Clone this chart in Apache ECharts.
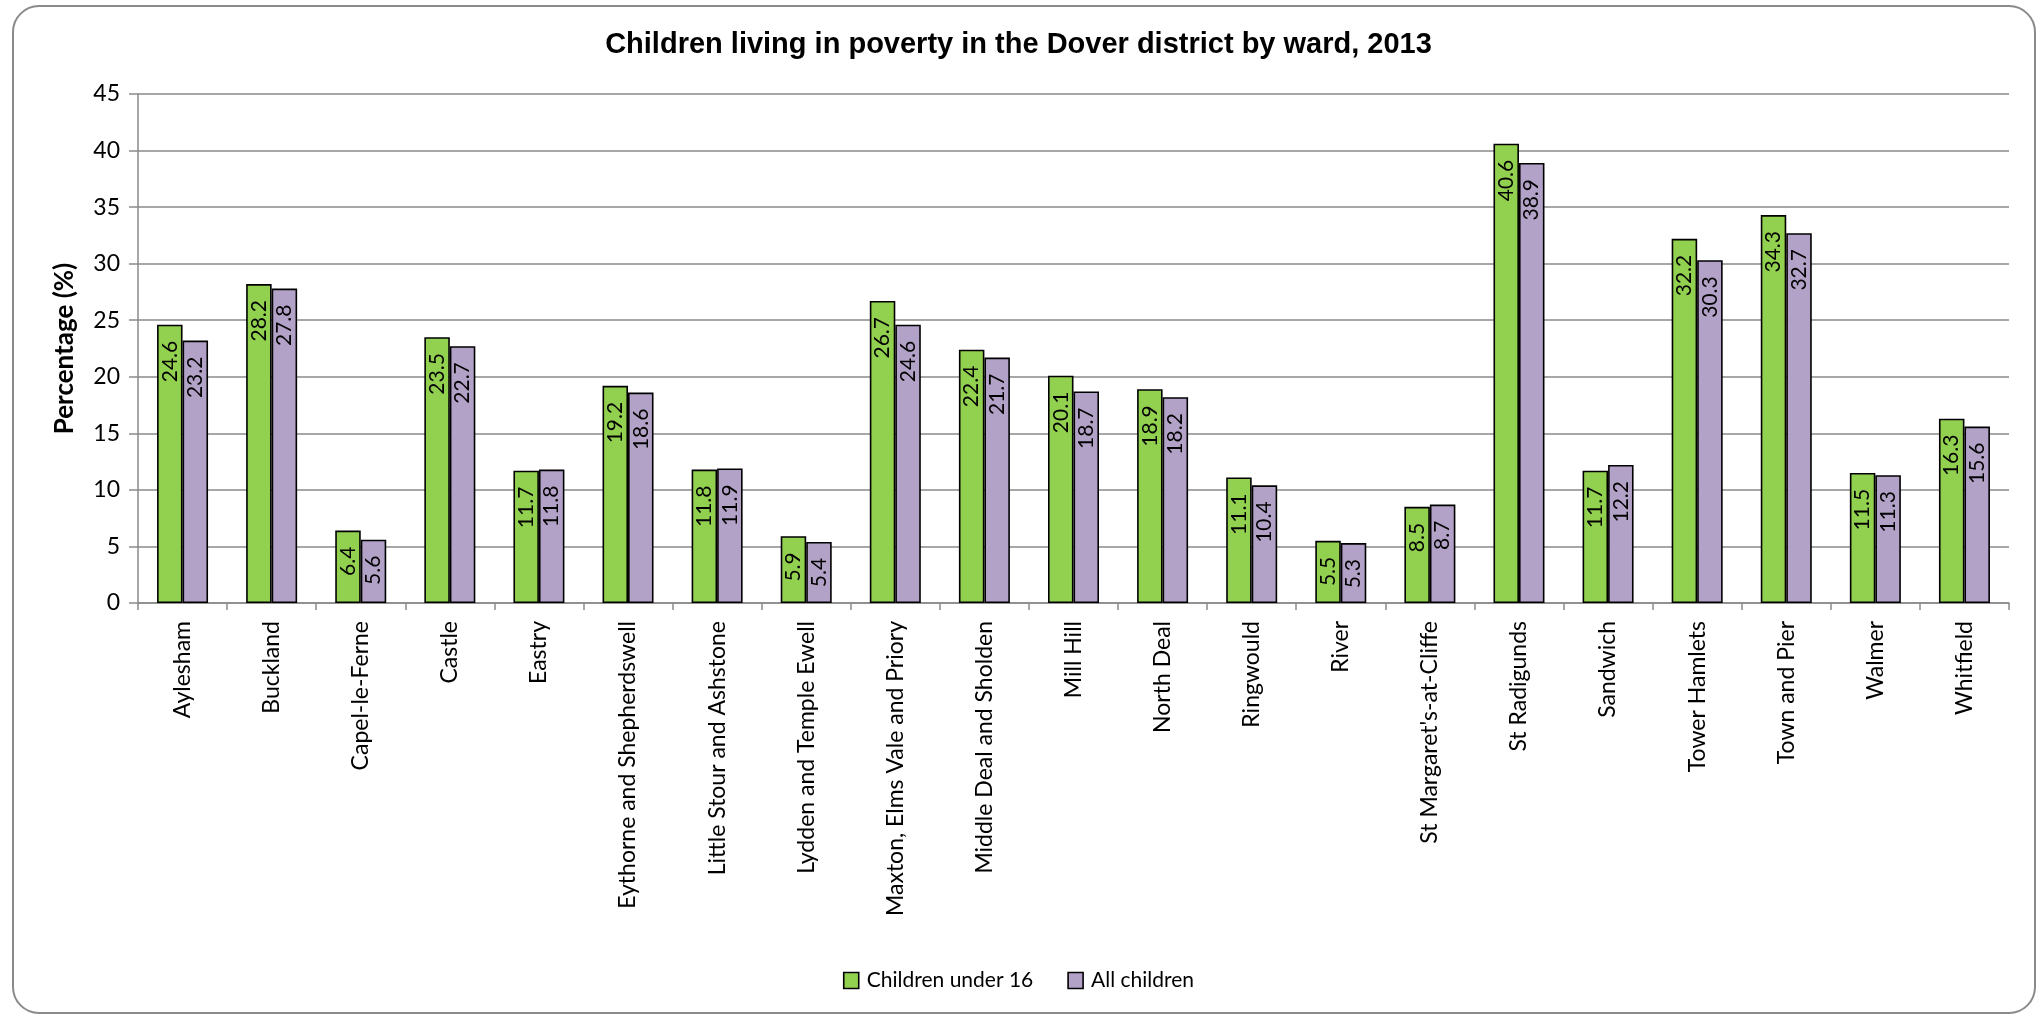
<!DOCTYPE html>
<html>
<head>
<meta charset="utf-8">
<title>Children living in poverty in the Dover district by ward, 2013</title>
<script src="https://cdn.jsdelivr.net/npm/echarts@6/dist/echarts.min.js"></script>
<style>
  html, body { margin: 0; padding: 0; background: #ffffff; }
  #chart { width: 2037px; height: 1017px; }
</style>
</head>
<body>
<div id="chart"></div>
<script>
// Ward names (x axis categories)
const wards = [
  'Aylesham', 'Buckland', 'Capel-le-Ferne', 'Castle', 'Eastry',
  'Eythorne and Shepherdswell', 'Little Stour and Ashstone', 'Lydden and Temple Ewell',
  'Maxton, Elms Vale and Priory', 'Middle Deal and Sholden', 'Mill Hill', 'North Deal',
  'Ringwould', 'River', "St Margaret's-at-Cliffe", 'St Radigunds', 'Sandwich',
  'Tower Hamlets', 'Town and Pier', 'Walmer', 'Whitfield'
];

// Percentage of children under 16 living in poverty
const under16 = [
  24.6, 28.2, 6.4, 23.5, 11.7, 19.2, 11.8, 5.9, 26.7, 22.4, 20.1,
  18.9, 11.1, 5.5, 8.5, 40.6, 11.7, 32.2, 34.3, 11.5, 16.3
];

// Percentage of all children living in poverty
const allChildren = [
  23.2, 27.8, 5.6, 22.7, 11.8, 18.6, 11.9, 5.4, 24.6, 21.7, 18.7,
  18.2, 10.4, 5.3, 8.7, 38.9, 12.2, 30.3, 32.7, 11.3, 15.6
];

// Value axis ticks
const yTicks = { min: 0, max: 45, interval: 5 };

const seriesNames = ['Children under 16', 'All children'];

const FONT = 'Lato, "Open Sans", sans-serif';
const GRID_GREY = '#8a8a8a';

const chart = echarts.init(document.getElementById('chart'), null, { renderer: 'canvas' });

function barSeries(name, data, color) {
  return {
    name: name,
    type: 'bar',
    data: data,
    barWidth: 25.5,
    barGap: '0%',
    itemStyle: { color: color, borderColor: '#000000', borderWidth: 1.6 },
    label: {
      show: true,
      position: 'insideTop',
      distance: 16,
      rotate: 90,
      align: 'right',
      verticalAlign: 'middle',
      color: '#000000',
      fontFamily: FONT,
      fontSize: 21,
      formatter: p => p.value.toFixed(1)
    }
  };
}

chart.setOption({
  animation: false,
  backgroundColor: '#ffffff',
  title: {
    text: 'Children living in poverty in the Dover district by ward, 2013',
    left: 'center',
    top: 25,
    textStyle: {
      fontFamily: '"Liberation Sans", Arial, sans-serif',
      fontWeight: 'bold',
      fontSize: 29,
      color: '#000000'
    }
  },
  graphic: [{
    type: 'rect',
    shape: { x: 13, y: 6, width: 2022, height: 1007, r: 26 },
    style: { fill: 'none', stroke: '#8a8a8a', lineWidth: 2 },
    silent: true,
    z: -10
  }],
  legend: {
    data: seriesNames,
    left: 'center',
    top: 965,
    icon: 'rect',
    itemWidth: 15,
    itemHeight: 16,
    itemGap: 34,
    textStyle: { fontFamily: FONT, fontSize: 21, color: '#000000', padding: [0, 0, 0, 3] },
    itemStyle: { borderColor: '#000000', borderWidth: 1.6 }
  },
  grid: { left: 138, right: 28, top: 94, bottom: 414 },
  xAxis: {
    type: 'category',
    data: wards,
    axisLine: { lineStyle: { color: GRID_GREY, width: 1.5 } },
    axisTick: { show: true, interval: 0, length: 7, lineStyle: { color: GRID_GREY, width: 1.5 } },
    axisLabel: {
      interval: 0,
      rotate: 90,
      margin: 18,
      fontFamily: FONT,
      fontSize: 23,
      color: '#000000'
    }
  },
  yAxis: {
    type: 'value',
    min: yTicks.min,
    max: yTicks.max,
    interval: yTicks.interval,
    name: 'Percentage (%)',
    nameLocation: 'middle',
    nameGap: 60,
    nameRotate: 90,
    nameTextStyle: { fontFamily: FONT, fontWeight: 'bold', fontSize: 26, color: '#000000' },
    axisLine: { show: true, lineStyle: { color: GRID_GREY, width: 1.5 } },
    axisTick: { show: true, length: 9, lineStyle: { color: GRID_GREY, width: 1.5 } },
    axisLabel: { margin: 18, fontFamily: FONT, fontSize: 23, color: '#000000' },
    splitLine: { show: true, lineStyle: { color: GRID_GREY, width: 1.5 } }
  },
  series: [
    barSeries(seriesNames[0], under16, '#92D050'),
    barSeries(seriesNames[1], allChildren, '#B3A2C7')
  ]
});
</script>
</body>
</html>
